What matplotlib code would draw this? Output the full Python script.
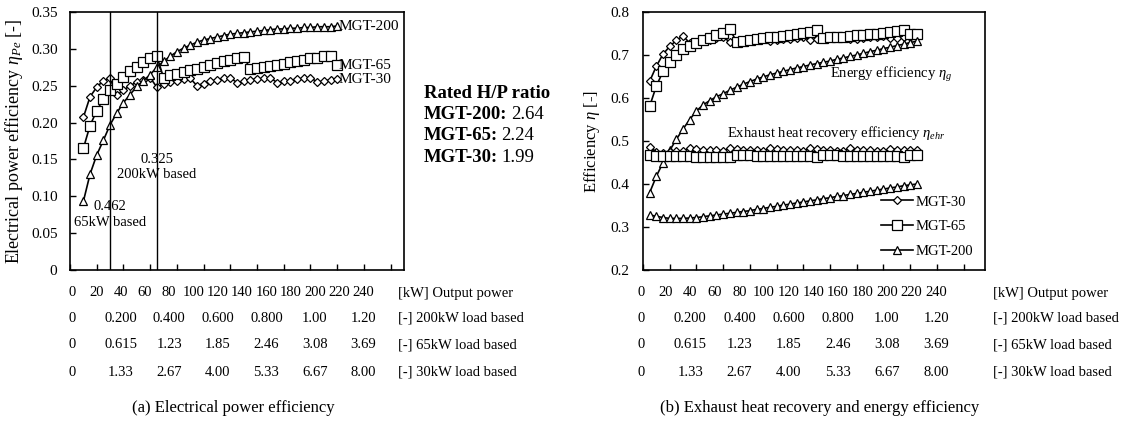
import matplotlib
matplotlib.use("Agg")
import matplotlib.pyplot as plt

plt.rcParams['font.family'] = ['Liberation Serif', 'DejaVu Serif']
plt.rcParams['mathtext.fontset'] = 'custom'
plt.rcParams['mathtext.rm'] = 'Liberation Serif'
plt.rcParams['mathtext.it'] = 'Liberation Serif:italic'

# ---- data: (a) electrical power efficiency [-] vs output power [kW]
kw_a = [10, 15, 20, 25, 30, 35, 40, 45, 50, 55, 60, 65, 70, 75, 80, 85, 90, 95, 100,
        105, 110, 115, 120, 125, 130, 135, 140, 145, 150, 155, 160, 165, 170, 175,
        180, 185, 190, 195, 200]
pe_mgt30 = [0.207, 0.235, 0.248, 0.257, 0.260, 0.237, 0.244, 0.250, 0.255, 0.258,
            0.261, 0.248, 0.252, 0.255, 0.257, 0.259, 0.260, 0.250, 0.253, 0.256,
            0.258, 0.260, 0.261, 0.254, 0.256, 0.258, 0.259, 0.260, 0.261, 0.254,
            0.256, 0.257, 0.259, 0.260, 0.261, 0.255, 0.256, 0.258, 0.259]
pe_mgt65 = [0.165, 0.196, 0.216, 0.232, 0.244, 0.253, 0.262, 0.270, 0.276, 0.282,
            0.287, 0.290, 0.261, 0.264, 0.266, 0.268, 0.271, 0.273, 0.276, 0.278,
            0.281, 0.283, 0.285, 0.287, 0.289, 0.273, 0.274, 0.275, 0.277, 0.278,
            0.280, 0.282, 0.283, 0.285, 0.287, 0.288, 0.290, 0.290, 0.278]
pe_mgt200 = [0.093, 0.130, 0.156, 0.176, 0.197, 0.213, 0.227, 0.238, 0.249, 0.257,
             0.265, 0.275, 0.283, 0.290, 0.296, 0.301, 0.305, 0.309, 0.312, 0.314,
             0.316, 0.318, 0.320, 0.321, 0.322, 0.323, 0.324, 0.325, 0.326, 0.327,
             0.327, 0.328, 0.328, 0.329, 0.329, 0.330, 0.330, 0.330, 0.331]

# ---- data: (b) energy and exhaust heat recovery efficiency [-]
kw_b = [5, 10, 15, 20, 25, 30, 35, 40, 45, 50, 55, 60, 65, 70, 75, 80, 85, 90, 95,
        100, 105, 110, 115, 120, 125, 130, 135, 140, 145, 150, 155, 160, 165, 170,
        175, 180, 185, 190, 195, 200, 205]
eg_mgt30 = [0.639, 0.674, 0.702, 0.720, 0.734, 0.745, 0.727, 0.730, 0.733, 0.736,
            0.739, 0.742, 0.730, 0.732, 0.734, 0.736, 0.738, 0.740, 0.733, 0.735,
            0.737, 0.738, 0.740, 0.741, 0.735, 0.737, 0.738, 0.740, 0.741, 0.742,
            0.737, 0.738, 0.740, 0.741, 0.742, 0.744, 0.739, 0.740, 0.742, 0.743, 0.744]
eg_mgt65 = [0.581, 0.628, 0.662, 0.684, 0.700, 0.713, 0.722, 0.728, 0.734, 0.740,
            0.746, 0.751, 0.760, 0.731, 0.733, 0.735, 0.737, 0.739, 0.741, 0.743,
            0.745, 0.747, 0.749, 0.751, 0.754, 0.758, 0.740, 0.741, 0.742, 0.743,
            0.745, 0.746, 0.747, 0.749, 0.750, 0.752, 0.754, 0.756, 0.758, 0.748, 0.748]
eg_mgt200 = [0.380, 0.418, 0.450, 0.478, 0.504, 0.528, 0.550, 0.570, 0.584, 0.594,
             0.603, 0.610, 0.618, 0.625, 0.632, 0.638, 0.644, 0.649, 0.654, 0.658,
             0.662, 0.666, 0.670, 0.673, 0.677, 0.680, 0.683, 0.686, 0.690, 0.693,
             0.697, 0.700, 0.704, 0.708, 0.711, 0.715, 0.718, 0.722, 0.725, 0.729, 0.732]
ehr_mgt30 = [0.487, 0.474, 0.473, 0.474, 0.476, 0.477, 0.484, 0.481, 0.479, 0.478,
             0.478, 0.477, 0.484, 0.481, 0.479, 0.478, 0.478, 0.477, 0.483, 0.481,
             0.479, 0.478, 0.478, 0.477, 0.483, 0.481, 0.479, 0.478, 0.477, 0.477,
             0.483, 0.480, 0.479, 0.478, 0.477, 0.477, 0.482, 0.480, 0.479, 0.478, 0.478]
ehr_mgt65 = [0.468, 0.466, 0.465, 0.465, 0.464, 0.464, 0.464, 0.463, 0.463, 0.463,
             0.462, 0.462, 0.462, 0.468, 0.467, 0.467, 0.466, 0.466, 0.466, 0.465,
             0.465, 0.465, 0.464, 0.464, 0.464, 0.463, 0.468, 0.467, 0.467, 0.466,
             0.466, 0.466, 0.465, 0.465, 0.465, 0.464, 0.464, 0.464, 0.463, 0.467, 0.467]
ehr_mgt200 = [0.328, 0.325, 0.322, 0.320, 0.320, 0.320, 0.321, 0.322, 0.324, 0.326,
              0.328, 0.330, 0.332, 0.334, 0.336, 0.338, 0.341, 0.343, 0.346, 0.348,
              0.351, 0.353, 0.356, 0.358, 0.361, 0.363, 0.366, 0.368, 0.371, 0.373,
              0.376, 0.378, 0.381, 0.383, 0.386, 0.388, 0.391, 0.393, 0.396, 0.398, 0.400]

# ---- labels under the axes
kw_labels = ['0', '20', '40', '60', '80', '100', '120', '140', '160', '180', '200', '220', '240']
load200_labels = ['0', '0.200', '0.400', '0.600', '0.800', '1.00', '1.20']
load65_labels = ['0', '0.615', '1.23', '1.85', '2.46', '3.08', '3.69']
load30_labels = ['0', '1.33', '2.67', '4.00', '5.33', '6.67', '8.00']
row_names = ['[kW] Output power', '[-] 200kW load based',
             '[-] 65kW load based', '[-] 30kW load based']
rated_ratio = [('MGT-200:', '2.64'), ('MGT-65:', '2.24'), ('MGT-30:', '1.99')]

W, H = 1126, 422
fig = plt.figure(figsize=(W / 100, H / 100), dpi=100)


def box(x0, y0, x1, y1):
    return [x0 / W, 1 - y1 / H, (x1 - x0) / W, (y1 - y0) / H]


def ftext(x, y, s, **kw):
    return fig.text(x / W, 1 - y / H, s, va='center', **kw)


line_kw = dict(color='black', lw=1.2, mfc='white', mec='black', mew=0.9)
styles = {'MGT-30': dict(marker='D', ms=4),
          'MGT-65': dict(marker='s', ms=6.5),
          'MGT-200': dict(marker='^', ms=5.5)}


def style_axes(ax, pad):
    ax.tick_params(direction='in', length=4, width=1, labelsize=11, pad=pad)
    ax.tick_params(axis='x', labelbottom=False)
    for sp in ax.spines.values():
        sp.set_linewidth(1.2)


# ---- (a)
ax1 = fig.add_axes(box(70, 12, 404, 270))
ax1.plot(kw_a, pe_mgt30, **styles['MGT-30'], **line_kw)
ax1.plot(kw_a, pe_mgt65, **styles['MGT-65'], **line_kw)
ax1.plot(kw_a, pe_mgt200, **styles['MGT-200'], **line_kw)
ax1.axvline(30, color='black', lw=1)
ax1.axvline(65, color='black', lw=1)
ax1.set_xlim(0, 250)
ax1.set_ylim(0, 0.35)
ax1.set_xticks(range(0, 241, 20))
ax1.set_yticks([0, 0.05, 0.10, 0.15, 0.20, 0.25, 0.30, 0.35])
ax1.set_yticklabels(['0', '0.05', '0.10', '0.15', '0.20', '0.25', '0.30', '0.35'])
style_axes(ax1, 9)
ax1.set_ylabel(r'Electrical power efficiency $\eta_{Pe}$ [-]', fontsize=13, labelpad=4)
for name, vals in [('MGT-200', pe_mgt200), ('MGT-65', pe_mgt65), ('MGT-30', pe_mgt30)]:
    ax1.text(kw_a[-1] + 1, vals[-1], name, fontsize=11, va='center', ha='left')
ax1.text(65, 0.140, '0.325\n200kW based', fontsize=10.5, ha='center', va='center',
         linespacing=1.25)
ax1.text(30, 0.075, '0.462\n65kW based', fontsize=10.5, ha='center', va='center',
         linespacing=1.25)

# rated H/P ratio block
ftext(424, 93, 'Rated H/P ratio', fontsize=13.5, fontweight='bold')
fig.canvas.draw()
for i, (name, val) in enumerate(rated_ratio):
    y = 114.5 + i * 21.5
    t = ftext(424, y, name, fontsize=13.5, fontweight='bold')
    bb = t.get_window_extent(renderer=fig.canvas.get_renderer())
    fig.text(bb.x1 / W + 0.003, 1 - y / H, val, va='center', fontsize=13.5)

# ---- (b)
ax2 = fig.add_axes(box(643, 12, 985, 270))
ax2.plot(kw_b, eg_mgt30, **styles['MGT-30'], **line_kw, label='MGT-30')
ax2.plot(kw_b, eg_mgt65, **styles['MGT-65'], **line_kw, label='MGT-65')
ax2.plot(kw_b, eg_mgt200, **styles['MGT-200'], **line_kw, label='MGT-200')
ax2.plot(kw_b, ehr_mgt30, **styles['MGT-30'], **line_kw)
ax2.plot(kw_b, ehr_mgt65, **styles['MGT-65'], **line_kw)
ax2.plot(kw_b, ehr_mgt200, **styles['MGT-200'], **line_kw)
ax2.set_xlim(0, 256)
ax2.set_ylim(0.2, 0.8)
ax2.set_xticks(range(0, 241, 20))
ax2.set_yticks([0.2, 0.3, 0.4, 0.5, 0.6, 0.7, 0.8])
style_axes(ax2, 10)
ax2.set_ylabel(r'Efficiency $\eta$ [-]', fontsize=12, labelpad=6)
ax2.text(140, 0.655, r'Energy efficiency $\eta_g$', fontsize=10.5, ha='left', va='center')
ax2.text(63, 0.518, r'Exhaust heat recovery efficiency $\eta_{ehr}$', fontsize=10.5,
         ha='left', va='center')
ax2.legend(loc='lower right', bbox_to_anchor=(1.0, 0.0), frameon=False, fontsize=10.5,
           handlelength=2.2, labelspacing=0.8, handletextpad=0.2, borderpad=0.3)

# ---- tables of axis labels below each chart
rows_y = [293, 318, 345, 372]
for x0, step, name_x in [(72, 24.3, 398), (641, 24.6, 993)]:
    for i, s in enumerate(kw_labels):
        ftext(x0 + i * step, rows_y[0], s, fontsize=10.5, ha='center')
    for r, labels in enumerate([load200_labels, load65_labels, load30_labels]):
        for j, s in enumerate(labels):
            ftext(x0 + 2 * j * step, rows_y[r + 1], s, fontsize=10.5, ha='center')
    for r, s in enumerate(row_names):
        ftext(name_x, rows_y[r], s, fontsize=10.5, ha='left')

ftext(233, 408, '(a) Electrical power efficiency', fontsize=12, ha='center')
ftext(820, 408, '(b) Exhaust heat recovery and energy efficiency', fontsize=12, ha='center')

fig.savefig('out.png', dpi=100)
